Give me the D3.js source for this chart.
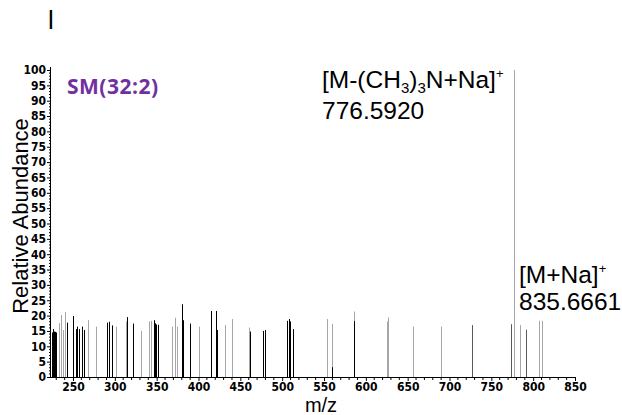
<!DOCTYPE html>
<html><head><meta charset="utf-8">
<script src="https://cdn.jsdelivr.net/npm/d3@7"></script>
<style>
html,body{margin:0;padding:0;background:#fff;}
svg{display:block;}
.tick text{font-family:"Liberation Sans Narrow","DejaVu Sans Condensed",Arial,sans-serif;font-weight:bold;font-size:12px;fill:#000;}
</style>
</head><body>
<svg id="chart" width="622" height="415"></svg>
<script>
// ---- data ----
const grayMz  = [233.3, 235.7, 238.4, 240.4, 268.3, 277.1, 301.0, 313.0, 331.3, 341.2, 343.6, 368.0, 372.3, 374.7, 400.2, 431.3, 439.7, 460.4, 553.9, 559.2, 586.2, 624.9, 626.8, 656.0, 689.5, 776.5920, 784.3, 806.9, 810.2];
const grayInt = [17.5, 20.2, 15.3, 21.2, 18.5, 16.4, 16.4, 18.1, 15.1, 18.1, 18.3, 16.4, 19.3, 16.4, 16.4, 16.9, 18.9, 16.1, 18.9, 17.3, 21.3, 18.1, 19.4, 16.4, 16.4, 100, 16.9, 18.3, 18.3];
const darkMz  = [726.5, 773.9, 791.1];
const darkInt = [16.9, 17.2, 15.4];
const blackMz  = [224.5, 225.3, 226.1, 227.3, 228.5, 229.7, 243.2, 250.4, 253.2, 255.1, 257.5, 260.4, 263.5, 290.3, 292.7, 297.0, 314.9, 322.1, 346.8, 348.4, 349.2, 352.0, 380.6, 381.8, 390.2, 415.3, 420.6, 422.5, 461.6, 477.5, 479.8, 506.1, 507.8, 509.0, 513.3, 559.2, 586.2];
const blackInt = [14.5, 14.2, 15.6, 14.8, 14.7, 14.5, 17.7, 19.9, 15.6, 16.4, 15.6, 16.4, 15.3, 17.7, 18.0, 16.8, 19.5, 17.4, 18.5, 17.5, 17.1, 17.0, 23.7, 18.5, 17.4, 21.5, 21.5, 15.3, 14.8, 15.0, 15.3, 18.3, 18.9, 18.1, 15.6, 3.2, 18.2];
const xTicks = [250, 300, 350, 400, 450, 500, 550, 600, 650, 700, 750, 800, 850];
const yTicks = [0,5,10,15,20,25,30,35,40,45,50,55,60,65,70,75,80,85,90,95,100];
const panelLabel = "l";
const lipidLabel = "SM(32:2)";
const xTitle = "m/z";
const yTitle = "Relative Abundance";
const ann1 = {mz: 776.5920, value: "776.5920"};
const ann2 = {mz: 835.6661, value: "835.6661"};

// ---- drawing ----
const svg = d3.select("#chart");
const x = d3.scaleLinear().domain([223.7, 850]).range([51, 575]);
const y = d3.scaleLinear().domain([0, 100]).range([377, 70]);

function peaks(mz, inten, color) {
  svg.append("g").selectAll("line").data(mz.map((m,i)=>({m, v: inten[i]})))
    .join("line")
    .attr("x1", d => Math.round(x(d.m)) + 0.5)
    .attr("x2", d => Math.round(x(d.m)) + 0.5)
    .attr("y1", y(0))
    .attr("y2", d => y(d.v))
    .attr("stroke", color)
    .attr("stroke-width", 1);
}
peaks(grayMz, grayInt, "#a6a6a6");
peaks(darkMz, darkInt, "#595959");
peaks(blackMz, blackInt, "#000");

// x axis
const xMinor = d3.range(230, 851, 10).filter(v => v % 50 !== 0);
const gx = svg.append("g").attr("transform", `translate(0,${y(0)})`);
gx.call(d3.axisBottom(x).tickValues(xTicks).tickSize(4).tickSizeOuter(0).tickPadding(1).tickFormat(d3.format("d")));
gx.select(".domain").attr("stroke", "#000").attr("d", `M${x.range()[0]},0.5H${x.range()[1]}`);
gx.selectAll(".tick line").attr("stroke", "#000");
gx.append("g").selectAll("line").data(xMinor).join("line")
  .attr("x1", d => x(d)).attr("x2", d => x(d)).attr("y1", 0).attr("y2", 3).attr("stroke", "#000");

// y axis
const yMinor = d3.range(0, 101, 1).filter(v => v % 5 !== 0);
const gy = svg.append("g").attr("transform", `translate(${x.range()[0]},0)`);
gy.call(d3.axisLeft(y).tickValues(yTicks).tickSize(4).tickSizeOuter(0).tickPadding(1).tickFormat(d3.format("d")));
gy.select(".domain").attr("stroke", "#000").attr("d", `M-0.5,${y(0)}V${y(100)-3}`);
gy.selectAll(".tick line").attr("stroke", "#000");
gy.append("g").selectAll("line").data(yMinor).join("line")
  .attr("x1", 0).attr("x2", -2).attr("y1", d => y(d)).attr("y2", d => y(d)).attr("stroke", "#000");

// titles
svg.append("text").attr("x", 321).attr("y", 412).attr("text-anchor", "middle")
  .attr("font-family", "Liberation Sans, Arial, sans-serif").attr("font-size", 20).text(xTitle);
svg.append("text").attr("transform", `translate(28,216) rotate(-90)`).attr("text-anchor", "middle")
  .attr("font-family", "Liberation Sans, Arial, sans-serif").attr("font-size", 22).text(yTitle);

// panel & lipid labels
svg.append("text").attr("x", 48).attr("y", 29)
  .attr("font-family", "Liberation Sans, Arial, sans-serif").attr("font-size", 26).text(panelLabel);
svg.append("text").attr("x", 67).attr("y", 94)
  .attr("font-family", "Open Sans, sans-serif").attr("font-weight", "bold").attr("font-size", 21)
  .attr("letter-spacing", 0.5)
  .attr("fill", "#7030a0").text(lipidLabel);

// annotation 1
const af = "Liberation Sans, Arial, sans-serif";
const t1 = svg.append("text").attr("x", 322).attr("y", 88).attr("font-family", af).attr("font-size", 24.5);
t1.append("tspan").text("[M-(CH");
t1.append("tspan").attr("font-size", 15).attr("dy", 5).text("3");
t1.append("tspan").attr("dy", -5).text(")");
t1.append("tspan").attr("font-size", 15).attr("dy", 5).text("3");
t1.append("tspan").attr("dy", -5).text("N+Na]");
t1.append("tspan").attr("font-size", 13).attr("dy", -10).text("+");
svg.append("text").attr("x", 322).attr("y", 119).attr("font-family", af).attr("font-size", 24.5).text(ann1.value);

// annotation 2
const t2 = svg.append("text").attr("x", 519).attr("y", 283).attr("font-family", af).attr("font-size", 24.5);
t2.append("tspan").text("[M+Na]");
t2.append("tspan").attr("font-size", 13).attr("dy", -10).text("+");
svg.append("text").attr("x", 519).attr("y", 310).attr("font-family", af).attr("font-size", 24.5).text(ann2.value);
</script>
</body></html>
